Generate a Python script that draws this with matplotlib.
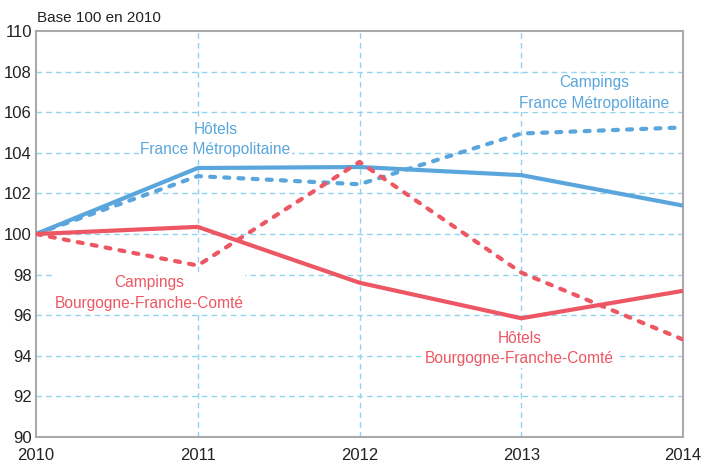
import matplotlib
matplotlib.use("Agg")
import matplotlib.pyplot as plt
from matplotlib import font_manager

years = [2010, 2011, 2012, 2013, 2014]
hotels_france = [100, 103.25, 103.3, 102.9, 101.4]
campings_france = [100, 102.85, 102.45, 104.95, 105.25]
hotels_bfc = [100, 100.35, 97.6, 95.85, 97.2]
campings_bfc = [100, 98.45, 103.55, 98.1, 94.8]
y_ticks = [90, 92, 94, 96, 98, 100, 102, 104, 106, 108, 110]

names = {f.name for f in font_manager.fontManager.ttflist}
fam = ['Liberation Sans Narrow', 'Liberation Sans', 'DejaVu Sans'] if 'Liberation Sans Narrow' in names else ['Liberation Sans', 'DejaVu Sans']
plt.rcParams['font.family'] = fam

BLUE = '#5aa6dc'
RED = '#ec5763'
GRID = '#8fd3f0'

fig = plt.figure(figsize=(7.01, 4.66), dpi=100)
ax = fig.add_axes([36/701, 1-437/466, (683-36)/701, (437-31)/466])

ax.set_xlim(2010, 2014)
ax.set_ylim(90, 110)
ax.set_yticks(y_ticks)
ax.set_xticks(years)
ax.tick_params(axis='y', length=0, labelsize=12, colors='#222222', pad=3)
ax.tick_params(axis='x', length=0, labelsize=12, colors='#222222', pad=8)
for s in ax.spines.values():
    s.set_color('#aaaaaa')
    s.set_linewidth(1.5)

for v in y_ticks[1:-1]:
    ax.axhline(v, color=GRID, lw=1, ls=(0, (4, 3)), zorder=1)
for v in years[1:-1]:
    ax.axvline(v, color=GRID, lw=1, ls=(0, (4, 3)), zorder=1)

ax.plot(years, hotels_france, color=BLUE, lw=3, solid_capstyle='butt', zorder=4)
ax.plot(years, campings_france, color=BLUE, lw=3, ls=(0, (1.2, 2.2)), dash_capstyle='round', zorder=4)
ax.plot(years, hotels_bfc, color=RED, lw=3, solid_capstyle='butt', zorder=4)
ax.plot(years, campings_bfc, color=RED, lw=3, ls=(0, (1.2, 2.2)), dash_capstyle='round', zorder=4)

bb = dict(facecolor='white', edgecolor='none', pad=1)
kw = dict(ha='center', va='center', fontsize=11.2, linespacing=1.45, zorder=3, bbox=bb)
ax.text(2011.11, 104.65, 'Hôtels\nFrance Métropolitaine', color=BLUE, **kw)
ax.text(2013.45, 106.95, 'Campings\nFrance Métropolitaine', color=BLUE, **kw)
ax.text(2010.7, 97.1, 'Campings\nBourgogne-Franche-Comté', color=RED, **kw)
ax.text(2012.99, 94.35, 'Hôtels\nBourgogne-Franche-Comté', color=RED, **kw)

fig.text(37/701, 1-18/466, 'Base 100 en 2010', ha='left', va='center', fontsize=11, color='#222222')

fig.savefig('out.png', dpi=100)
